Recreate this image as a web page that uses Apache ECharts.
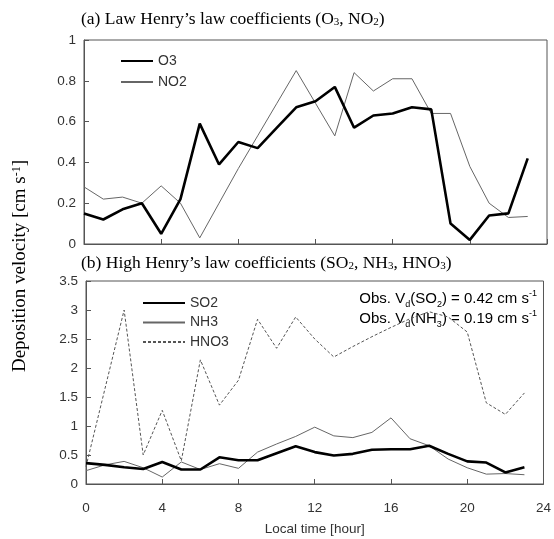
<!DOCTYPE html>
<html>
<head>
<meta charset="utf-8">
<script src="https://cdn.jsdelivr.net/npm/echarts@6/dist/echarts.min.js"></script>
<style>html,body{margin:0;padding:0;background:#fff}#c{width:554px;height:539px}</style>
</head>
<body>
<div id="c"></div>
<script>
const hours = [0,1,2,3,4,5,6,7,8,9,10,11,12,13,14,15,16,17,18,19,20,21,22,23];
const o3  = [0.15,0.12,0.17,0.20,0.05,0.22,0.59,0.39,0.50,0.47,0.57,0.67,0.70,0.77,0.57,0.63,0.64,0.67,0.66,0.10,0.02,0.14,0.15,0.42];
const no2 = [0.28,0.22,0.23,0.20,0.285,0.20,0.03,0.20,0.37,0.53,0.69,0.85,0.69,0.53,0.84,0.75,0.81,0.81,0.64,0.64,0.38,0.20,0.13,0.135];
const so2 = [0.36,0.33,0.29,0.26,0.38,0.25,0.25,0.46,0.41,0.41,0.53,0.65,0.55,0.49,0.52,0.59,0.60,0.60,0.66,0.52,0.39,0.37,0.20,0.29];
const nh3 = [0.23,0.33,0.39,0.28,0.12,0.38,0.25,0.35,0.27,0.55,0.69,0.82,0.98,0.83,0.80,0.89,1.14,0.78,0.66,0.43,0.28,0.17,0.18,0.16];
const hno3 = [0.3,1.65,3.0,0.5,1.27,0.4,2.14,1.36,1.79,2.84,2.34,2.88,2.5,2.19,2.37,2.54,2.7,2.85,2.97,2.88,2.62,1.4,1.2,1.57];

const pair = arr => hours.map((h,i)=>[h, arr[i]]);
const chart = echarts.init(document.getElementById('c'), null, {renderer:'canvas'});
const labelColor = '#333';
const sans = 'Liberation Sans, Arial, sans-serif';
const serif = 'Liberation Serif, Times New Roman, serif';
const subRich = {
  n: {fontFamily: serif, fontSize: 17.5, fontWeight: 'normal', color: '#000'},
  s: {fontFamily: serif, fontSize: 11, fontWeight: 'normal', color: '#000', verticalAlign: 'bottom', padding: [7,0,0,0]}
};
const axisCommonY = {
  type: 'value',
  axisLine: {show: true, lineStyle: {color: '#555'}},
  axisTick: {show: true, inside: true, length: 5, lineStyle: {color: '#555'}},
  splitLine: {show: false},
  axisLabel: {color: labelColor, fontFamily: sans, fontSize: 13.5, margin: 8}
};
const axisCommonX = {
  type: 'value', min: 0, max: 24, interval: 4,
  axisLine: {show: true, lineStyle: {color: '#555'}},
  axisTick: {show: true, inside: true, length: 5, lineStyle: {color: '#555'}},
  splitLine: {show: false}
};
const thick = {color: '#000', width: 2.6};
const thin = {color: '#666', width: 1};
const legendText = {color: labelColor, fontFamily: sans, fontSize: 14};

chart.setOption({
  animation: false,
  backgroundColor: '#fff',
  title: [
    {text: '{n|(a) Law Henry’s law coefficients (O}{s|3}{n|, NO}{s|2}{n|)}', left: 76, top: 5,
     textStyle: {fontWeight: 'normal', rich: subRich}},
    {text: '{n|(b) High Henry’s law coefficients (SO}{s|2}{n|, NH}{s|3}{n|, HNO}{s|3}{n|)}', left: 76, top: 249,
     textStyle: {fontWeight: 'normal', rich: subRich}}
  ],
  grid: [
    {left: 84, right: 7, top: 40, height: 204, show: true, borderColor: '#555', borderWidth: 1, backgroundColor: 'transparent'},
    {left: 86, right: 8, top: 281, height: 203, show: true, borderColor: '#555', borderWidth: 1, backgroundColor: 'transparent'}
  ],
  xAxis: [
    Object.assign({}, axisCommonX, {gridIndex: 0, axisLabel: {show: false}}),
    Object.assign({}, axisCommonX, {gridIndex: 1,
      axisLabel: {color: labelColor, fontFamily: sans, fontSize: 13.5, margin: 17},
      name: 'Local time [hour]', nameLocation: 'middle', nameGap: 38,
      nameTextStyle: {color: labelColor, fontFamily: sans, fontSize: 13.5}})
  ],
  yAxis: [
    Object.assign({}, axisCommonY, {gridIndex: 0, min: 0, max: 1, interval: 0.2}),
    Object.assign({}, axisCommonY, {gridIndex: 1, min: 0, max: 3.5, interval: 0.5})
  ],
  legend: [
    {data: ['O3','NO2'], left: 115, top: 49, orient: 'vertical', itemWidth: 32, itemHeight: 14, itemGap: 7,
     itemStyle: {opacity: 0}, textStyle: legendText},
    {data: ['SO2','NH3','HNO3'], left: 137, top: 291, orient: 'vertical', itemWidth: 42, itemHeight: 13, itemGap: 5.5,
     itemStyle: {opacity: 0}, textStyle: legendText}
  ],
  series: [
    {name: 'O3', type: 'line', xAxisIndex: 0, yAxisIndex: 0, data: pair(o3), symbol: 'none', lineStyle: thick, itemStyle: {color: '#000'}, z: 3},
    {name: 'NO2', type: 'line', xAxisIndex: 0, yAxisIndex: 0, data: pair(no2), symbol: 'none', lineStyle: thin, itemStyle: {color: '#666'}, z: 2},
    {name: 'SO2', type: 'line', xAxisIndex: 1, yAxisIndex: 1, data: pair(so2), symbol: 'none', lineStyle: thick, itemStyle: {color: '#000'}, z: 3},
    {name: 'NH3', type: 'line', xAxisIndex: 1, yAxisIndex: 1, data: pair(nh3), symbol: 'none', lineStyle: thin, itemStyle: {color: '#666'}, z: 2},
    {name: 'HNO3', type: 'line', xAxisIndex: 1, yAxisIndex: 1, data: pair(hno3), symbol: 'none',
     lineStyle: {color: '#555', width: 1, type: [3,2]}, itemStyle: {color: '#555'}, z: 2}
  ],
  graphic: [
    {type: 'text', x: 20, y: 266, rotation: Math.PI/2,
     style: {text: '{n|Deposition velocity [cm s}{p|-1}{n|]}', align: 'center', verticalAlign: 'middle',
       rich: {n: {fontFamily: serif, fontSize: 19, color: '#000'},
              p: {fontFamily: serif, fontSize: 12, color: '#000', verticalAlign: 'top', padding: [0,0,7,0]}}}},
    {type: 'text', right: 17, top: 289,
     style: {text: '{n|Obs. V}{s|d}{n|(SO}{s|2}{n|) = 0.42 cm s}{p|-1}\n{n|Obs. V}{s|d}{n|(NH}{s|3}{n|) = 0.19 cm s}{p|-1}',
       lineHeight: 20, align: 'right',
       rich: {n: {fontFamily: sans, fontSize: 15, color: '#000', lineHeight: 20},
              s: {fontFamily: sans, fontSize: 9, color: '#000', verticalAlign: 'bottom', lineHeight: 20, padding: [6,0,0,0]},
              p: {fontFamily: sans, fontSize: 9, color: '#000', verticalAlign: 'top', lineHeight: 20, padding: [0,0,6,0]}}}}
  ]
});
</script>
</body>
</html>
